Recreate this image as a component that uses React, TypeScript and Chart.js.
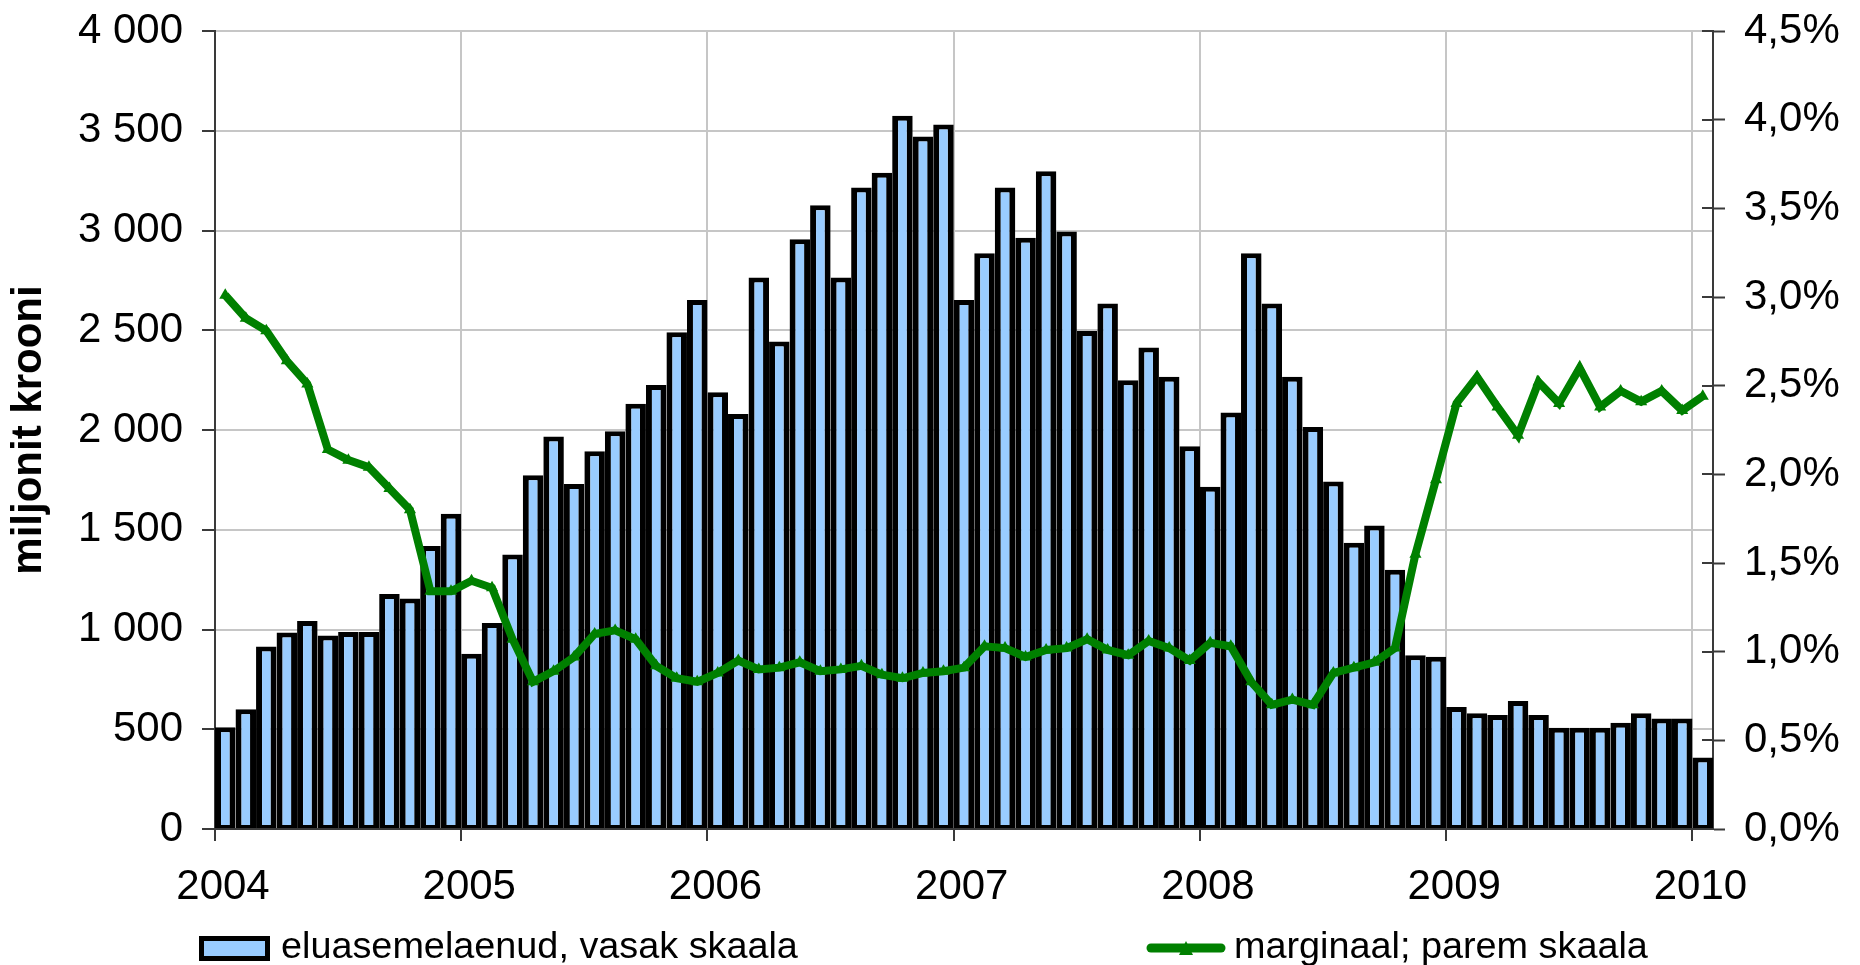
import React, { useEffect, useRef } from 'react';
import { Chart, registerables } from 'chart.js';

Chart.register(...registerables);

// ---- data ----
const years = ['2004', '2005', '2006', '2007', '2008', '2009', '2010'];
const monthCodes = ['01', '02', '03', '04', '05', '06', '07', '08', '09', '10', '11', '12'];
// 73 monthly categories: Jan 2004 ... Jan 2010
const months: string[] = years.flatMap((y) => monthCodes.map((m) => `${y}-${m}`)).slice(0, 73);

const barLabel = 'eluasemelaenud, vasak skaala';
const lineLabel = 'marginaal; parem skaala';
const yTitle = 'miljonit krooni';

// housing loans, million kroons (left axis)
const loans = [
  510, 600, 915, 985, 1042, 970, 987, 987, 1178, 1155, 1418, 1580,
  878, 1032, 1376, 1773, 1968, 1729, 1894, 1994, 2132, 2226, 2490, 2652,
  2189, 2080, 2764, 2444, 2956, 3126, 2764, 3216, 3289, 3575, 3471, 3531,
  2652, 2886, 3216, 2964, 3297, 2995, 2496, 2634, 2249, 2413, 2267, 1919,
  1716, 2088, 2886, 2634, 2267, 2015, 1742, 1435, 1521, 1300, 871, 863,
  611, 580, 572, 642, 572, 507, 507, 507, 533, 580, 554, 554,
  359,
];

// margin, % (right axis)
const margin = [
  3.01, 2.88, 2.81, 2.64, 2.51, 2.14, 2.08, 2.04, 1.92, 1.80, 1.34, 1.34,
  1.40, 1.36, 1.07, 0.83, 0.89, 0.97, 1.10, 1.12, 1.07, 0.92, 0.85, 0.83,
  0.88, 0.95, 0.90, 0.91, 0.94, 0.89, 0.90, 0.92, 0.87, 0.85, 0.88, 0.89,
  0.91, 1.03, 1.02, 0.97, 1.01, 1.02, 1.07, 1.01, 0.98, 1.06, 1.02, 0.95,
  1.05, 1.03, 0.83, 0.70, 0.73, 0.70, 0.88, 0.91, 0.94, 1.02, 1.55, 1.97,
  2.40, 2.55, 2.38, 2.22, 2.52, 2.40, 2.60, 2.38, 2.47, 2.41, 2.47, 2.36,
  2.44,
];

const leftTicks = [0, 500, 1000, 1500, 2000, 2500, 3000, 3500, 4000];
const rightTicks = [0, 0.5, 1, 1.5, 2, 2.5, 3, 3.5, 4, 4.5];

// ---- styles ----
const FONT = "'Liberation Sans', Arial, Helvetica, sans-serif";
const BAR_FILL = '#99CCFF';
const GREEN = '#008000';
const GRID = '#c6c6c6';
const AXIS = '#3a3a3a';

const fmtThousands = (v: number) =>
  String(Math.round(v)).replace(/\B(?=(\d{3})+(?!\d))/g, ' ');
const fmtPct = (v: number) => v.toFixed(1).replace('.', ',') + '%';

const innerTicksPlugin = {
  id: 'innerTicksY2',
  afterDatasetsDraw(chart: any) {
    const s = chart.scales.y2;
    if (!s) return;
    const ctx = chart.ctx;
    ctx.save();
    ctx.strokeStyle = AXIS;
    ctx.lineWidth = 2;
    s.ticks.forEach((t: any) => {
      const y = Math.round(s.getPixelForValue(t.value));
      ctx.beginPath();
      ctx.moveTo(s.left - 11, y);
      ctx.lineTo(s.left, y);
      ctx.stroke();
    });
    ctx.restore();
  },
};

const legendPlugin = {
  id: 'customLegend',
  afterDraw(chart: any) {
    const ctx = chart.ctx;
    const lineDs = chart.data.datasets[0];
    const barDs = chart.data.datasets[1];
    ctx.save();
    // bar item
    ctx.fillStyle = barDs.backgroundColor;
    ctx.fillRect(199, 936, 71, 25);
    ctx.strokeStyle = '#000';
    ctx.lineWidth = 5;
    ctx.strokeRect(201.5, 938.5, 66, 20);
    ctx.font = `37.8px ${FONT}`;
    ctx.fillStyle = '#000';
    ctx.textAlign = 'left';
    ctx.textBaseline = 'middle';
    ctx.fillText(barDs.label, 281, 948);
    // line item
    ctx.strokeStyle = lineDs.borderColor;
    ctx.lineWidth = 9;
    ctx.lineCap = 'round';
    ctx.beginPath();
    ctx.moveTo(1151, 948);
    ctx.lineTo(1221, 948);
    ctx.stroke();
    ctx.fillStyle = lineDs.borderColor;
    ctx.beginPath();
    ctx.moveTo(1186, 941);
    ctx.lineTo(1193, 955);
    ctx.lineTo(1179, 955);
    ctx.closePath();
    ctx.fill();
    ctx.fillStyle = '#000';
    ctx.fillText(lineDs.label, 1234, 948);
    ctx.restore();
  },
};

export default function App() {
  const ref = useRef<HTMLCanvasElement | null>(null);

  useEffect(() => {
    if (!ref.current) return;
    const barData = months.map((m, i) => ({ x: i + 0.5, y: loans[i] }));
    const lineData = months.map((m, i) => ({ x: i + 0.5, y: margin[i] }));

    const chart = new Chart(ref.current, {
      type: 'bar',
      data: {
        datasets: [
          {
            type: 'line',
            label: lineLabel,
            data: lineData,
            yAxisID: 'y2',
            xAxisID: 'x',
            borderColor: GREEN,
            backgroundColor: GREEN,
            borderWidth: 8,
            tension: 0,
            pointStyle: 'triangle',
            pointRadius: 7,
            pointBorderWidth: 0,
            pointBackgroundColor: GREEN,
            order: 0,
          } as any,
          {
            type: 'bar',
            label: barLabel,
            data: barData,
            yAxisID: 'y',
            xAxisID: 'x',
            backgroundColor: BAR_FILL,
            borderColor: '#000',
            borderWidth: { top: 5, left: 6, right: 6, bottom: 3 },
            borderSkipped: false,
            inflateAmount: 0,
            barPercentage: 1,
            categoryPercentage: 1,
            order: 1,
          } as any,
        ],
      },
      options: {
        animation: false,
        responsive: true,
        maintainAspectRatio: false,
        layout: { padding: { top: 31, bottom: 49, left: 0, right: 0 } },
        plugins: {
          legend: { display: false },
          tooltip: { enabled: false },
        },
        scales: {
          x: {
            type: 'linear',
            min: 0,
            max: months.length,
            offset: false,
            afterBuildTicks: (s: any) => {
              s.ticks = years.map((_, k) => ({ value: k * 12 }));
            },
            afterFit: (s: any) => {
              s.height = 87;
            },
            ticks: {
              autoSkip: false,
              maxRotation: 0,
              minRotation: 0,
              padding: 21,
              labelOffset: 8,
              color: '#000',
              font: { family: FONT, size: 42 },
              callback: (v: any) => years[Math.round(Number(v) / 12)],
            },
            grid: {
              color: GRID,
              lineWidth: 2,
              tickColor: AXIS,
              tickLength: 12,
              tickWidth: 2,
              offset: false,
            },
            border: { color: AXIS, width: 2 },
          },
          y: {
            type: 'linear',
            position: 'left',
            min: 0,
            max: 4000,
            afterBuildTicks: (s: any) => {
              s.ticks = leftTicks.map((v) => ({ value: v }));
            },
            afterFit: (s: any) => {
              s.width = 215;
              s.paddingTop = 0;
              s.paddingBottom = 0;
            },
            ticks: {
              padding: 19,
              color: '#000',
              font: { family: FONT, size: 42 },
              callback: (v: any) => fmtThousands(Number(v)),
            },
            title: {
              display: true,
              text: yTitle,
              color: '#000',
              font: { family: FONT, size: 42, weight: 'bold' },
              padding: { top: 4, bottom: 0 },
            },
            grid: {
              color: GRID,
              lineWidth: 2,
              tickColor: AXIS,
              tickLength: 13,
              tickWidth: 2,
            },
            border: { color: AXIS, width: 2 },
          },
          y2: {
            type: 'linear',
            position: 'right',
            min: 0,
            max: 4.5,
            afterBuildTicks: (s: any) => {
              s.ticks = rightTicks.map((v) => ({ value: v }));
            },
            afterFit: (s: any) => {
              s.width = 147;
              s.paddingTop = 0;
              s.paddingBottom = 0;
            },
            ticks: {
              padding: 19,
              color: '#000',
              font: { family: FONT, size: 42 },
              callback: (v: any) => fmtPct(Number(v)),
            },
            grid: {
              drawOnChartArea: false,
              tickColor: AXIS,
              tickLength: 12,
              tickWidth: 2,
            },
            border: { color: AXIS, width: 2 },
          },
        },
      } as any,
      plugins: [innerTicksPlugin, legendPlugin],
    });

    return () => chart.destroy();
  }, []);

  return (
    <div
      style={{
        position: 'absolute',
        left: 0,
        top: 0,
        width: '1860px',
        height: '965px',
        background: '#fff',
      }}
    >
      <canvas ref={ref} style={{ display: 'block' }} />
    </div>
  );
}
